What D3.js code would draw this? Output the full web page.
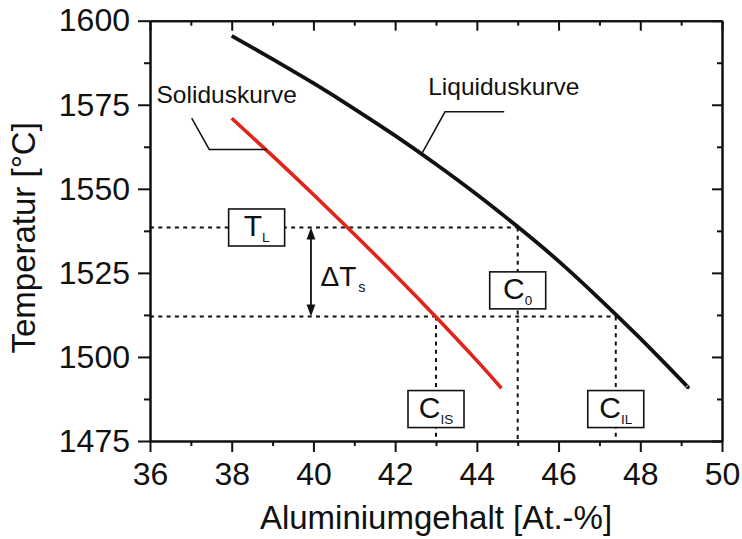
<!DOCTYPE html>
<html>
<head>
<meta charset="utf-8">
<script src="https://cdn.jsdelivr.net/npm/d3@7"></script>
<style>
  html, body { margin: 0; padding: 0; background: #fff; }
  svg { display: block; font-family: "Liberation Sans", Arial, sans-serif; }
</style>
</head>
<body>
<svg id="chart" width="742" height="539"></svg>
<script>
// Liquidus and solidus curves (Al content in at.-%, temperature in °C)
const liquidusAl = [38, 39, 40, 41, 42, 43, 44, 45, 46, 47, 48, 49, 49.15];
const liquidusT  = [1595.5, 1588.6, 1581.4, 1573.8, 1565.8, 1557.3, 1548.3, 1538.7, 1528.5, 1517.3, 1505.5, 1493.1, 1491.2];
const solidusAl  = [38, 39, 40, 41, 42, 43, 44, 44.6];
const solidusT   = [1571, 1559.8, 1548.3, 1536.5, 1524.4, 1511.9, 1498.9, 1490.7];

// Construction values
const tLiquidus = 1538.5;   // T_L
const tSolidus  = 1512;     // lower isotherm
const c0  = 45;
const cIS = 43;
const cIL = 47.4;

// Axis ticks
const xTicks = [36, 38, 40, 42, 44, 46, 48, 50];
const xMinor = [37, 39, 41, 43, 45, 47, 49];
const yTicks = [1475, 1500, 1525, 1550, 1575, 1600];
const yMinor = [1487.5, 1512.5, 1537.5, 1562.5, 1587.5];

const svg = d3.select("#chart");
const x = d3.scaleLinear().domain([36, 50]).range([150, 722]);
const y = d3.scaleLinear().domain([1475, 1600]).range([441, 20.7]);

const fontTick = 32;

// ---- axes ----
function styleAxis(g) {
  g.selectAll(".domain").attr("stroke", "#111").attr("stroke-width", 2);
  g.selectAll(".tick line").attr("stroke", "#111").attr("stroke-width", 2);
  g.selectAll(".tick text").attr("fill", "#111").style("font-size", fontTick + "px")
    .style("font-family", "'Liberation Sans', Arial, sans-serif");
}

svg.append("g").attr("transform", `translate(0,${y(1475)})`)
  .call(d3.axisBottom(x).tickValues(xTicks).tickSize(11).tickSizeOuter(0).tickPadding(10).tickFormat(d3.format("d")))
  .call(styleAxis);
svg.append("g").attr("transform", `translate(0,${y(1475)})`)
  .call(d3.axisBottom(x).tickValues(xMinor).tickSize(5).tickSizeOuter(0).tickFormat(""))
  .call(styleAxis);

svg.append("g").attr("transform", `translate(0,${y(1600)})`)
  .call(d3.axisTop(x).tickValues(xTicks).tickSize(-10).tickSizeOuter(0).tickFormat(""))
  .call(styleAxis);
svg.append("g").attr("transform", `translate(0,${y(1600)})`)
  .call(d3.axisTop(x).tickValues(xMinor).tickSize(-5).tickSizeOuter(0).tickFormat(""))
  .call(styleAxis);

svg.append("g").attr("transform", `translate(${x(36)},0)`)
  .call(d3.axisLeft(y).tickValues(yTicks).tickSize(12).tickSizeOuter(0).tickPadding(8).tickFormat(d3.format("d")))
  .call(styleAxis);
svg.append("g").attr("transform", `translate(${x(36)},0)`)
  .call(d3.axisLeft(y).tickValues(yMinor).tickSize(6).tickSizeOuter(0).tickFormat(""))
  .call(styleAxis);

svg.append("g").attr("transform", `translate(${x(50)},0)`)
  .call(d3.axisRight(y).tickValues(yTicks).tickSize(-10).tickSizeOuter(0).tickFormat(""))
  .call(styleAxis);
svg.append("g").attr("transform", `translate(${x(50)},0)`)
  .call(d3.axisRight(y).tickValues(yMinor).tickSize(-5).tickSizeOuter(0).tickFormat(""))
  .call(styleAxis);

// axis titles
svg.append("text")
  .attr("x", (x(36) + x(50)) / 2).attr("y", 529)
  .attr("text-anchor", "middle").attr("fill", "#111")
  .style("font-size", "33px")
  .text("Aluminiumgehalt [At.-%]");

svg.append("text")
  .attr("transform", `translate(35,${(y(1475) + y(1600)) / 2 + 7}) rotate(-90)`)
  .attr("text-anchor", "middle").attr("fill", "#111")
  .style("font-size", "33px")
  .text("Temperatur [°C]");

// ---- construction lines (dashed) ----
const dash = "4,4.3";
const guides = svg.append("g").attr("stroke", "#111").attr("stroke-width", 2)
  .attr("stroke-dasharray", dash).attr("fill", "none");
guides.append("line").attr("x1", x(36)).attr("x2", x(c0)).attr("y1", y(tLiquidus)).attr("y2", y(tLiquidus));
guides.append("line").attr("x1", x(36)).attr("x2", x(cIL)).attr("y1", y(tSolidus)).attr("y2", y(tSolidus));
guides.append("line").attr("x1", x(c0)).attr("x2", x(c0)).attr("y1", y(tLiquidus)).attr("y2", y(1475));
guides.append("line").attr("x1", x(cIS)).attr("x2", x(cIS)).attr("y1", y(tSolidus)).attr("y2", y(1475));
guides.append("line").attr("x1", x(cIL)).attr("x2", x(cIL)).attr("y1", y(tSolidus)).attr("y2", y(1475));

// ---- curves ----
const line = d3.line().x(d => x(d[0])).y(d => y(d[1])).curve(d3.curveNatural);
svg.append("path")
  .datum(liquidusAl.map((a, i) => [a, liquidusT[i]]))
  .attr("d", line).attr("fill", "none").attr("stroke", "#111").attr("stroke-width", 3.8);
svg.append("path")
  .datum(solidusAl.map((a, i) => [a, solidusT[i]]))
  .attr("d", line).attr("fill", "none").attr("stroke", "#e2231a").attr("stroke-width", 3.6);

// ---- curve labels with leader lines ----
const leader = d3.line().x(d => x(d[0])).y(d => y(d[1]));
svg.append("path")
  .attr("d", leader([[37.02, 1571], [37.45, 1561.7], [38.86, 1561.7]]))
  .attr("fill", "none").attr("stroke", "#111").attr("stroke-width", 1.5);
svg.append("path")
  .attr("d", leader([[42.65, 1560.4], [43.22, 1572.9], [44.67, 1572.9]]))
  .attr("fill", "none").attr("stroke", "#111").attr("stroke-width", 1.5);

svg.append("text").attr("x", x(36.16)).attr("y", y(1575.4))
  .attr("fill", "#111").style("font-size", "24.5px").text("Soliduskurve");
svg.append("text").attr("x", x(42.81)).attr("y", y(1577.9))
  .attr("fill", "#111").style("font-size", "24.5px").text("Liquiduskurve");

// ---- boxed labels ----
const boxes = [
  { cx: 38.61, cy: tLiquidus, main: "T", sub: "L" },
  { cx: c0,    cy: 1519.8,    main: "C", sub: "0" },
  { cx: cIS,   cy: 1484.5,    main: "C", sub: "IS" },
  { cx: cIL,   cy: 1484.5,    main: "C", sub: "IL" }
];
const bw = 56, bh = 37;
boxes.forEach(b => {
  const g = svg.append("g").attr("transform", `translate(${x(b.cx)},${y(b.cy)})`);
  g.append("rect").attr("x", -bw / 2).attr("y", -bh / 2).attr("width", bw).attr("height", bh)
    .attr("fill", "#fff").attr("stroke", "#111").attr("stroke-width", 1.6);
  const t = g.append("text").attr("text-anchor", "middle").attr("y", 9).attr("fill", "#111");
  t.append("tspan").style("font-size", "30px").text(b.main);
  t.append("tspan").style("font-size", "13.5px").attr("dy", 5.5).text(b.sub);
});

// ---- ΔT_s arrow ----
const ax = x(39.94);
const y1 = y(tLiquidus), y2 = y(tSolidus);
svg.append("line").attr("x1", ax).attr("x2", ax).attr("y1", y1 + 8).attr("y2", y2 - 8)
  .attr("stroke", "#111").attr("stroke-width", 1.8);
svg.append("path").attr("d", `M${ax},${y1} L${ax - 4.4},${y1 + 12} L${ax + 4.4},${y1 + 12} Z`).attr("fill", "#111");
svg.append("path").attr("d", `M${ax},${y2} L${ax - 4.4},${y2 - 12} L${ax + 4.4},${y2 - 12} Z`).attr("fill", "#111");
const dt = svg.append("text").attr("x", ax + 9.5).attr("y", 286).attr("fill", "#111");
dt.append("tspan").style("font-size", "28px").text("ΔT");
dt.append("tspan").style("font-size", "14.5px").attr("dy", 6).attr("dx", 2).text("s");
</script>
</body>
</html>
